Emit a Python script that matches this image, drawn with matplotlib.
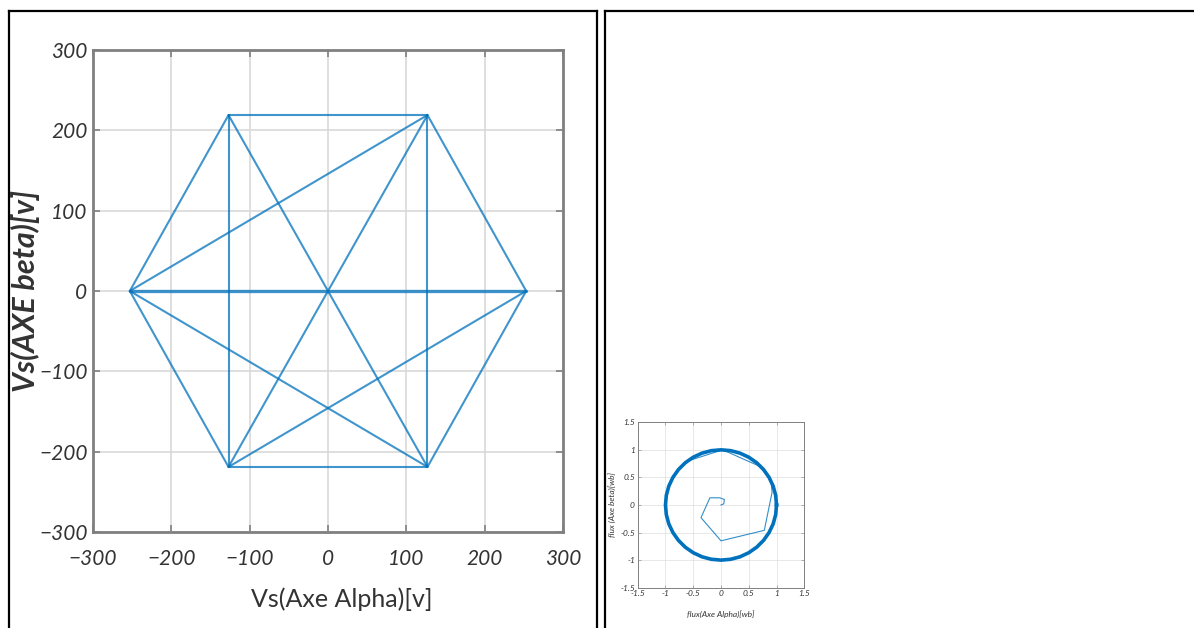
import matplotlib
matplotlib.use("Agg")
import matplotlib.pyplot as plt
from matplotlib.lines import Line2D

# SVM voltage vectors (alpha, beta) in volts: V1..V6 and the zero vector
vec_alpha = [253, 127, -127, -253, -127, 127, 0]
vec_beta = [0, 219, 219, 0, -219, -219, 0]

# transitions between vectors drawn in the alpha-beta plane
segments = [(0, 1), (1, 2), (2, 3), (3, 4), (4, 5), (5, 0),
            (3, 0), (2, 4), (1, 5), (2, 5), (1, 4),
            (3, 1), (3, 5), (0, 4)]

# stator flux start-up transient [wb]
flux_start_a = [0.00, 0.05, 0.06, -0.02, -0.20, -0.36, 0.00, 0.78, 0.92, 0.90, 0.70, 0.03, -0.59]
flux_start_b = [0.00, 0.02, 0.10, 0.13, 0.13, -0.23, -0.65, -0.46, 0.23, 0.45, 0.70, 1.00, 0.80]

# steady-state flux locus [wb]
flux_a = [1.000, 0.985, 0.940, 0.866, 0.766, 0.643, 0.500, 0.342, 0.174, 0.000,
          -0.174, -0.342, -0.500, -0.643, -0.766, -0.866, -0.940, -0.985,
          -1.000, -0.985, -0.940, -0.866, -0.766, -0.643, -0.500, -0.342, -0.174,
          0.000, 0.174, 0.342, 0.500, 0.643, 0.766, 0.866, 0.940, 0.985, 1.000]
flux_b = [0.000, 0.174, 0.342, 0.500, 0.643, 0.766, 0.866, 0.940, 0.985, 1.000,
          0.985, 0.940, 0.866, 0.766, 0.643, 0.500, 0.342, 0.174,
          0.000, -0.174, -0.342, -0.500, -0.643, -0.766, -0.866, -0.940, -0.985,
          -1.000, -0.985, -0.940, -0.866, -0.766, -0.643, -0.500, -0.342, -0.174, 0.000]

ticks_v = [-300, -200, -100, 0, 100, 200, 300]
ticks_f = [-1.5, -1, -0.5, 0, 0.5, 1, 1.5]
ticks_f_labels = ["-1.5", "-1", "-0.5", "0", "0.5", "1", "1.5"]

blue = "#0072BD"
spine_gray = "#808080"
text_color = "#333333"
font = "Lato"

fig = plt.figure(figsize=(11.94, 6.28), dpi=100)


def style_axes(ax, size, width):
    for s in ax.spines.values():
        s.set_color(spine_gray)
        s.set_linewidth(width)
    ax.grid(True, color="#d9d9d9", linewidth=width * 0.6)
    ax.set_axisbelow(True)
    ax.tick_params(direction="in", length=size * 0.35, width=width * 0.6,
                   color=spine_gray, top=True, right=True)
    for lab in ax.get_xticklabels() + ax.get_yticklabels():
        lab.set_fontfamily(font)
        lab.set_fontstyle("italic")
        lab.set_fontsize(size)
        lab.set_color(text_color)


# left panel: voltage vectors
ax = fig.add_axes([0.0779, 0.1529, 0.3936, 0.7675])
for i, j in segments:
    lw = 2.4 if (i, j) == (3, 0) else 1.5
    ax.plot([vec_alpha[i], vec_alpha[j]], [vec_beta[i], vec_beta[j]],
            color=blue, lw=lw, alpha=0.75, solid_capstyle="round")
ax.set_xlim(-300, 300)
ax.set_ylim(-300, 300)
ax.set_xticks(ticks_v)
ax.set_yticks(ticks_v)
style_axes(ax, 15, 2)
ax.tick_params(axis="x", pad=12)
ax.tick_params(axis="y", pad=4)
ax.set_xlabel("Vs(Axe Alpha)[v]", fontfamily=font, fontsize=18, color=text_color)
ax.xaxis.set_label_coords(0.53, -0.115)
ax.set_ylabel("Vs(AXE beta)[v]", fontfamily=font, fontstyle="italic", fontweight="bold",
              fontsize=22, color=text_color)
ax.yaxis.set_label_coords(-0.112, 0.5)

# right panel: stator flux locus
axf = fig.add_axes([0.5341, 0.0642, 0.1395, 0.2634])
axf.plot(flux_a, flux_b, color=blue, lw=2.6)
axf.plot(flux_start_a, flux_start_b, color=blue, lw=0.8, alpha=0.8)
axf.set_xlim(-1.5, 1.5)
axf.set_ylim(-1.5, 1.5)
axf.set_xticks(ticks_f)
axf.set_yticks(ticks_f)
axf.set_xticklabels(ticks_f_labels)
axf.set_yticklabels(ticks_f_labels)
style_axes(axf, 6, 0.7)
axf.tick_params(pad=2)
axf.set_xlabel("flux(Axe Alpha)[wb]", fontfamily=font, fontstyle="italic", fontsize=6,
               color=text_color, labelpad=9)
axf.set_ylabel("flux (Axe beta)[wb]", fontfamily=font, fontstyle="italic", fontsize=6,
               color=text_color, labelpad=3)


# cell borders around the two panels
def border(x0, y0, x1, y1):
    fig.add_artist(Line2D([x0 / 1194, x1 / 1194], [1 - y0 / 628, 1 - y1 / 628],
                          transform=fig.transFigure, color="black", lw=1.6))


border(9, 11, 597, 11)
border(9, 11, 9, 628)
border(597, 11, 597, 628)
border(605, 11, 1194, 11)
border(605, 11, 605, 628)

fig.savefig("out.png", dpi=100)
